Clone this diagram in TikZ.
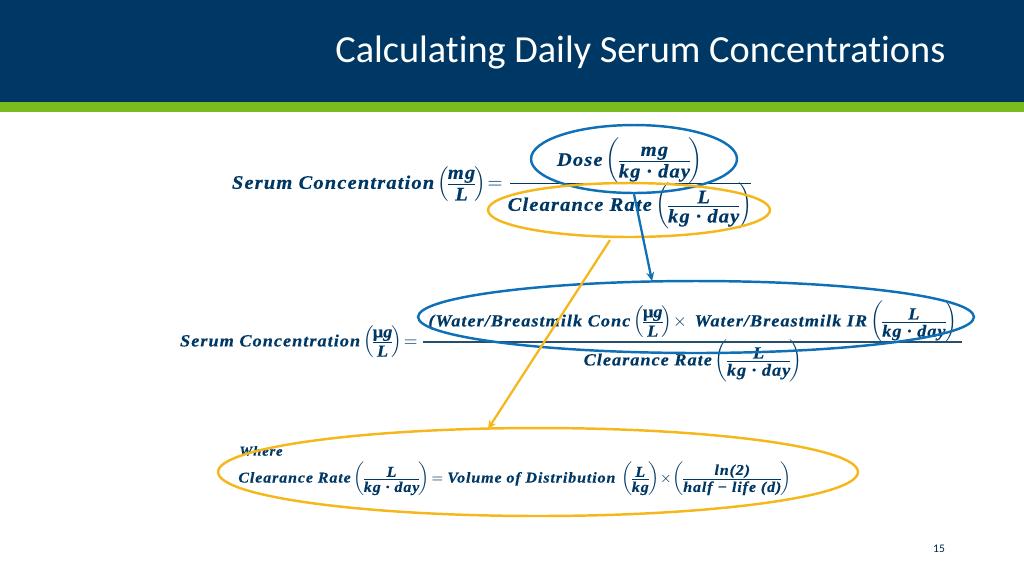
\documentclass[tikz,border=0pt]{standalone}
\usepackage{fontspec}
\usepackage{amsmath}
\usetikzlibrary{shapes.geometric,arrows.meta}
\setmainfont[Ligatures=CommonOff]{Carlito}
\newfontfamily\eqfont[LetterSpace=6,FakeStretch=1.07,FakeBold=0.4]{Liberation Serif}
\newcommand{\bv}[1]{\mbox{\eqfont\bfseries\itshape #1}}
\newcommand{\mug}{\mbox{\eqfont\bfseries µ\itshape g}}
\newcommand{\fr}[2]{\tfrac{#1}{\rule{0pt}{0.8em}#2}}
\definecolor{navy}{HTML}{003865}
\definecolor{leaf}{HTML}{78BC1E}
\definecolor{ovalblue}{HTML}{0F70B7}
\definecolor{ovalgold}{HTML}{F5B81C}
\tikzset{
  eqn/.style={text=navy, inner sep=0pt, font=\fontsize{10.9pt}{13pt}\selectfont},
  eqnsmall/.style={text=navy, inner sep=0pt, font=\fontsize{9.7pt}{11pt}\selectfont},
  eqnwhere/.style={text=navy, inner sep=0pt, font=\fontsize{8.5pt}{10pt}\selectfont},
  oval/.style={ellipse, draw, line width=1.4pt, inner sep=0pt},
  pointer/.style={line width=1.3pt, -{Stealth[length=5pt,width=4.5pt]}}
}
\begin{document}
\begin{tikzpicture}[x=0.02cm, y=-0.02cm]
  \useasboundingbox (0,0) rectangle (1024,576);
  \fill[navy] (0,0) rectangle (1024,102);
  \fill[leaf] (0,102) rectangle (1024,112);
  \node[text=white, font=\fontsize{21.8pt}{26pt}\selectfont, anchor=west, inner sep=0pt] (title) at (335,52) {Calculating Daily Serum Concentrations};

  % first formula
  \node[eqn, anchor=east] (serumone) at (503,184) {$\bv{Serum Concentration}\left(\!\fr{\bv{mg}}{\bv{L}}\!\right)\!=$};
  \node[eqn] (doseterm) at (630,161) {$\bv{Dose}\left(\!\fr{\bv{mg}}{\bv{kg · day}}\!\right)$};
  \node[eqn] (rateterm) at (630,206) {$\bv{Clearance Rate}\left(\!\fr{\bv{L}}{\bv{kg · day}}\!\right)$};
  \draw[navy, line width=0.5pt] (510,183.5) -- (751,183.5);

  % second formula
  \node[eqnsmall, anchor=east] (serumtwo) at (418,342) {$\bv{Serum Concentration}\left(\!\fr{\mug}{\bv{L}}\!\right)\!=$};
  \node[eqnsmall] (intake) at (693,322) {$\bv{(Water/Breastmilk Conc}\left(\!\fr{\mug}{\bv{L}}\!\right)\!\times\ \bv{Water/Breastmilk IR}\left(\!\fr{\bv{L}}{\bv{kg · day}}\!\right)$};
  \node[eqnsmall] (ratetwo) at (693,361) {$\bv{Clearance Rate}\left(\!\fr{\bv{L}}{\bv{kg · day}}\!\right)$};
  \draw[navy!70!gray, line width=0.7pt] (423,342) -- (962,342);

  % where block
  \node[eqnwhere, anchor=west, font=\fontsize{7.8pt}{10pt}\selectfont] (where) at (239,451) {\bv{Where}};
  \node[eqnwhere, anchor=west] (halflife) at (238,479) {$\bv{Clearance Rate}\left(\!\fr{\bv{L}}{\bv{kg · day}}\!\right)\!=\bv{Volume of Distribution}\ \left(\!\fr{\bv{L}}{\bv{kg}}\!\right)\!\times\!\left(\!\fr{\bv{ln(2)}}{\bv{half − life (d)}}\!\right)$};

  \node[oval, ovalblue, minimum width=4.12cm, minimum height=1.36cm] (doseoval) at (634,159) {};
  \node[oval, ovalgold, minimum width=5.64cm, minimum height=1.08cm] (rateoval) at (629,210) {};
  \node[oval, ovalblue, minimum width=11.12cm, minimum height=1.44cm] (intakeoval) at (696,317) {};
  \node[oval, ovalgold, minimum width=12.80cm, minimum height=1.76cm] (whereoval) at (538,472) {};

  \coordinate (blueend) at (652,281);
  \coordinate (goldstart) at (610,240);
  \coordinate (goldend) at (488,429);
  \draw[pointer, ovalblue] (doseoval.south) -- (blueend);
  \draw[pointer, ovalgold] (goldstart) -- (goldend);

  \node[text=navy!70!black, font=\fontsize{6.6pt}{8pt}\selectfont] (pagenum) at (939,549) {15};
\end{tikzpicture}
\end{document}
